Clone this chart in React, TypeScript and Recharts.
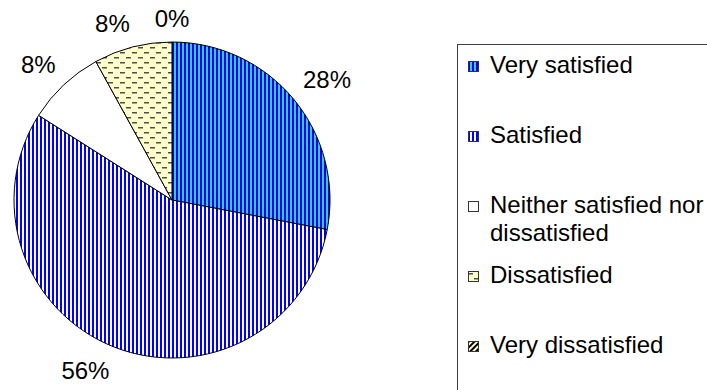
import { Cell, Legend, Pie, PieChart } from "recharts";

const categories = [
  "Very satisfied",
  "Satisfied",
  "Neither satisfied nor dissatisfied",
  "Dissatisfied",
  "Very dissatisfied",
];
const responses = [7, 14, 2, 2, 0];
const fills = ["url(#pVerySat)", "url(#pSat)", "#FFFFFF", "url(#pDissat)", "url(#pVeryDissat)"];

const data = categories.map((name, i) => ({ name, value: responses[i] }));

const FONT = '"Liberation Sans", Arial, sans-serif';
const RAD = Math.PI / 180;

const clamp = (v: number) => Math.max(-1, Math.min(1, v));

// label box sits with its nearest corner on a ring just outside the pie
const renderLabel = (props: any) => {
  const { cx, cy, midAngle, percent } = props;
  const cos = Math.cos(-midAngle * RAD);
  const sin = Math.sin(-midAngle * RAD);
  const text = `${Math.round(percent * 100)}%`;
  const w = ((text.length - 1) * 0.556 + 0.889) * 24;
  const ax = cx + 170 * cos;
  const ay = cy + 170 * sin;
  const x = ax + (clamp(cos * 10) * w) / 2;
  const y = ay + clamp(sin * 10) * 12;
  return (
    <text
      x={x}
      y={y}
      textAnchor="middle"
      dominantBaseline="central"
      fontSize={24}
      fontFamily={FONT}
      fill="#000"
    >
      {text}
    </text>
  );
};

function LegendBox() {
  return (
    <div
      style={{
        boxSizing: "border-box",
        width: 270,
        height: 360,
        border: "1px solid #404040",
        background: "#fff",
        fontFamily: FONT,
        fontSize: 24,
        lineHeight: "28px",
        color: "#000",
        paddingTop: 6,
      }}
    >
      {categories.map((name, i) => (
        <div key={name} style={{ position: "relative", height: 70 }}>
          <svg
            width={11}
            height={11}
            style={{ position: "absolute", left: 10, top: 10 }}
          >
            <rect x={0.5} y={0.5} width={10} height={10} fill={fills[i]} stroke="#333" />
          </svg>
          <div style={{ position: "absolute", left: 32, top: 0, width: 225 }}>{name}</div>
        </div>
      ))}
    </div>
  );
}

export default function App() {
  return (
    <div
      style={{
        position: "absolute",
        left: 0,
        top: 0,
        width: 707,
        height: 390,
        overflow: "hidden",
        background: "#fff",
      }}
    >
      <svg width={0} height={0} style={{ position: "absolute" }}>
        <defs>
          <pattern id="pVerySat" width={4} height={4} patternUnits="userSpaceOnUse">
            <rect width={4} height={4} fill="#33CCCC" />
            <rect width={2} height={4} fill="#0000FF" />
          </pattern>
          <pattern id="pSat" width={4} height={4} patternUnits="userSpaceOnUse">
            <rect width={4} height={4} fill="#FFFFFF" />
            <rect width={2} height={4} fill="#0000FF" />
          </pattern>
          <pattern id="pDissat" width={12} height={10} patternUnits="userSpaceOnUse">
            <rect width={12} height={10} fill="#FFFFCC" />
            <rect x={0} y={2} width={5} height={1.5} fill="#4d4d4d" />
            <rect x={6} y={7} width={5} height={1.5} fill="#4d4d4d" />
          </pattern>
          <pattern
            id="pVeryDissat"
            width={4}
            height={4}
            patternUnits="userSpaceOnUse"
            patternTransform="rotate(45)"
          >
            <rect width={4} height={4} fill="#FFFFCC" />
            <rect width={2} height={4} fill="#000" />
          </pattern>
        </defs>
      </svg>
      <PieChart width={707} height={390} margin={{ top: 0, right: 0, bottom: 0, left: 0 }}>
        <Pie
          data={data}
          dataKey="value"
          nameKey="name"
          cx={172}
          cy={200}
          outerRadius={158}
          startAngle={90}
          endAngle={-270}
          stroke="#000"
          strokeWidth={1}
          labelLine={false}
          label={renderLabel}
          isAnimationActive={false}
        >
          {data.map((d, i) => (
            <Cell key={d.name} fill={fills[i]} />
          ))}
        </Pie>
        <Legend
          content={() => <LegendBox />}
          wrapperStyle={{ position: "absolute", left: 457, top: 44, width: 270, height: 360, margin: 0 }}
        />
      </PieChart>
    </div>
  );
}
